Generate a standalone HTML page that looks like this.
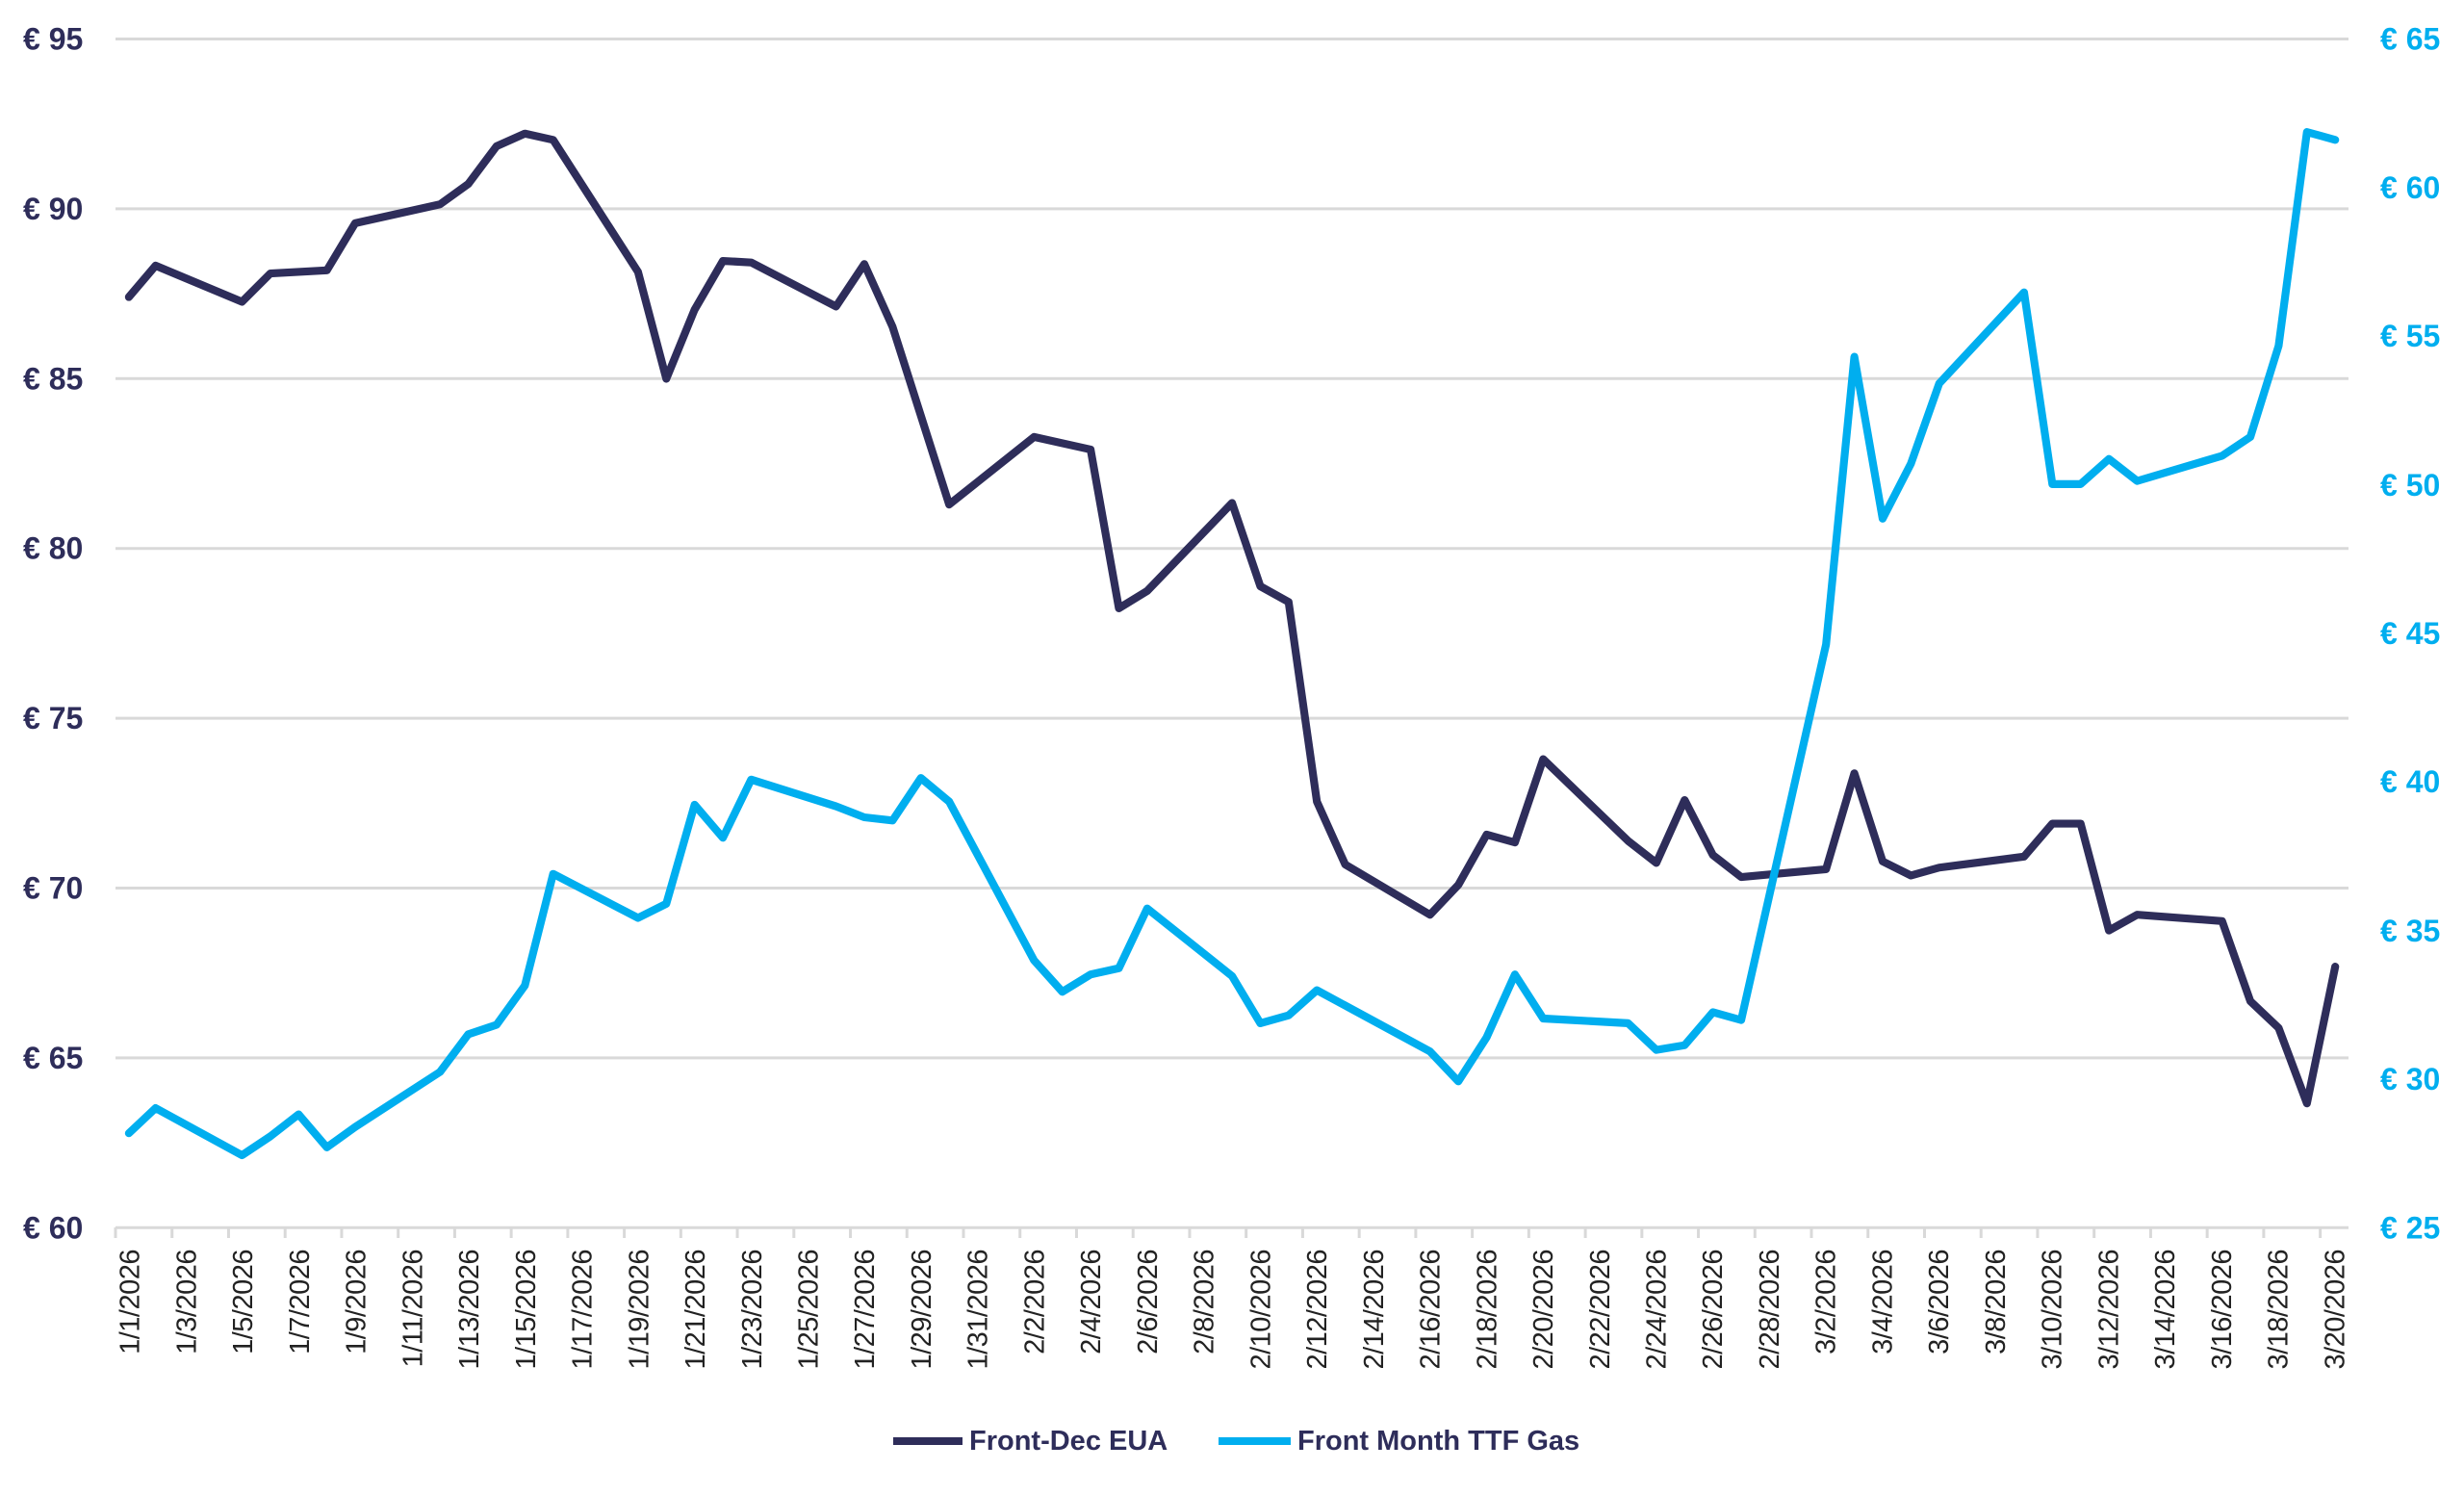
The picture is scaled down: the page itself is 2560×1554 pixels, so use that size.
<!DOCTYPE html>
<html><head><meta charset="utf-8"><style>
html,body{margin:0;padding:0;background:#fff;}
svg{display:block;}
.l{font-family:"Liberation Sans",sans-serif;font-weight:bold;font-size:32px;fill:#2e2d5a;}
.r{font-family:"Liberation Sans",sans-serif;font-weight:bold;font-size:32px;fill:#00aeef;}
.x{font-family:"Liberation Sans",sans-serif;font-size:29px;fill:#222;letter-spacing:-0.5px;}
.lg{font-family:"Liberation Sans",sans-serif;font-weight:bold;font-size:29px;fill:#2e2d5a;}
</style></head><body>
<svg width="2560" height="1554" viewBox="0 0 2560 1554" xmlns="http://www.w3.org/2000/svg">
<g stroke="#d9d9d9" stroke-width="3">
<line x1="120" x2="2440" y1="40.5" y2="40.5"/>
<line x1="120" x2="2440" y1="216.9" y2="216.9"/>
<line x1="120" x2="2440" y1="393.3" y2="393.3"/>
<line x1="120" x2="2440" y1="569.7" y2="569.7"/>
<line x1="120" x2="2440" y1="746.1" y2="746.1"/>
<line x1="120" x2="2440" y1="922.5" y2="922.5"/>
<line x1="120" x2="2440" y1="1098.9" y2="1098.9"/>
<line x1="120" x2="2440" y1="1275.3" y2="1275.3"/>
</g>
<g id="ticks" stroke="#d9d9d9" stroke-width="3"></g>
<g class="l" dominant-baseline="central">
<text x="24" y="40.5">€ 95</text><text x="24" y="216.9">€ 90</text><text x="24" y="393.3">€ 85</text><text x="24" y="569.7">€ 80</text><text x="24" y="746.1">€ 75</text><text x="24" y="922.5">€ 70</text><text x="24" y="1098.9">€ 65</text><text x="24" y="1275.3">€ 60</text>
</g>
<g class="r" dominant-baseline="central">
<text x="2473" y="40.5">€ 65</text><text x="2473" y="195">€ 60</text><text x="2473" y="349">€ 55</text><text x="2473" y="504">€ 50</text><text x="2473" y="658">€ 45</text><text x="2473" y="812">€ 40</text><text x="2473" y="967">€ 35</text><text x="2473" y="1121">€ 30</text><text x="2473" y="1275.3">€ 25</text>
</g>
<g id="xl" class="x"></g>
<g transform="scale(1.6327)" fill="none" stroke-width="5" stroke-linejoin="round" stroke-linecap="round">
<polyline stroke="#2e2d5a" points="82,189 99,169 154,192 172,174 190,173 208,172 226,142 280,130 298,117 316,93 334,85 352,89 406,173 424,241 442,197 460,166 478,167 532,195 550,168 568,208 604,321 658,278 694,286 712,387 730,376 784,320 802,373 820,383 838,510 856,550 910,582 928,563 946,531 964,536 982,483 1036,535 1054,549 1072,509 1090,544 1108,558 1162,553 1180,492 1198,548 1216,557 1234,552 1288,545 1306,524 1324,524 1342,592 1360,582 1414,586 1432,637 1450,654 1468,702 1486,615"/>
<polyline stroke="#00aeef" points="82,721 99,705 154,735 172,723 190,709 208,730 226,717 280,682 298,658 316,652 334,627 352,556 406,584 424,575 442,512 460,533 478,496 532,513 550,520 568,522 586,495 604,510 658,611 676,631 694,620 712,616 730,578 784,621 802,651 820,646 838,630 910,669 928,688 946,660 964,620 982,648 1036,651 1054,668 1072,665 1090,644 1108,649 1162,410 1180,227 1198,330 1216,295 1234,244 1288,186 1306,308 1324,308 1342,292 1360,306 1414,290 1432,278 1450,220 1468,84 1486,89"/>
</g>
<line x1="928" x2="1000" y1="1497" y2="1497" stroke="#2e2d5a" stroke-width="8"/>
<text class="lg" x="1007" y="1497" dominant-baseline="central">Front-Dec EUA</text>
<line x1="1266" x2="1341" y1="1497" y2="1497" stroke="#00aeef" stroke-width="8"/>
<text class="lg" x="1348" y="1497" dominant-baseline="central">Front Month TTF Gas</text>
<script>
(function(){
var ns="http://www.w3.org/2000/svg",t=document.getElementById("ticks"),xl=document.getElementById("xl");
var w=2320/79;
for(var d=0;d<79;d+=2){
 var tx=120+d*w;
 var l=document.createElementNS(ns,"line");
 l.setAttribute("x1",tx);l.setAttribute("x2",tx);l.setAttribute("y1",1275);l.setAttribute("y2",1286);t.appendChild(l);
 var dt=new Date(2026,0,1+d);
 var s=(dt.getMonth()+1)+"/"+dt.getDate()+"/2026";
 var cx=120+(d+0.5)*w;
 var e=document.createElementNS(ns,"text");
 e.setAttribute("transform","translate("+(cx+10)+",1298) rotate(-90)");
 e.setAttribute("text-anchor","end");
 e.textContent=s;xl.appendChild(e);
}
var l2=document.createElementNS(ns,"line");
l2.setAttribute("x1",120);l2.setAttribute("x2",120);l2.setAttribute("y1",1275);l2.setAttribute("y2",1286);t.appendChild(l2);
})();
</script>
</svg>
</body></html>
